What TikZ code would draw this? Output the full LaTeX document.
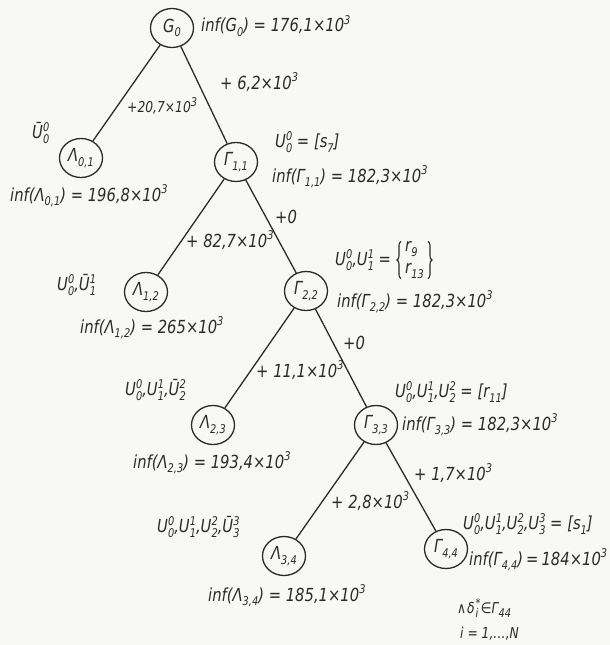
\documentclass[tikz,border=0pt]{standalone}
\usepackage{fontspec}
\setmainfont{DejaVu Sans}[FakeStretch=0.82]
\usetikzlibrary{shapes.geometric,decorations.pathreplacing}
\definecolor{ink}{HTML}{2B2B2B}
\definecolor{paper}{HTML}{F8F8F6}
\newcommand\mysup[1]{\raisebox{0.75ex}{\fontsize{12}{12}\selectfont #1}}
\newcommand\mysub[1]{\raisebox{-0.45ex}{\fontsize{12}{12}\selectfont #1}}
\newcommand\Usd[3]{#1\rlap{\mysup{#2}}\mysub{#3}}
\tikzset{
  every node/.style={font=\fontsize{18}{20}\selectfont\itshape, text=ink},
  st/.style={draw=ink, line width=1.3pt, ellipse, minimum width=43pt, minimum height=39pt, inner sep=0pt},
  edge/.style={draw=ink, line width=1.3pt},
  lab/.style={anchor=west, inner sep=0pt},
  small/.style={font=\fontsize{15}{17}\selectfont\itshape},
  brc/.style={draw=ink, line width=1.1pt, decorate, decoration={brace, amplitude=4pt}}
}
\begin{document}
\begin{tikzpicture}[x=1pt,y=-1pt]
\fill[paper] (0,0) rectangle (610,645);
\useasboundingbox (0,0) rectangle (610,645);
% tree nodes
\node[st] (G0)  at (172,28)  {G\mysub{0}};
\node[st] (L01) at (81,158)  {Λ\mysub{0,1}};
\node[st] (G11) at (236,162) {Γ\mysub{1,1}};
\node[st] (L12) at (146,292) {Λ\mysub{1,2}};
\node[st] (G22) at (306,291) {Γ\mysub{2,2}};
\node[st] (L23) at (213,425) {Λ\mysub{2,3}};
\node[st] (G33) at (376,425) {Γ\mysub{3,3}};
\node[st] (L34) at (284,556) {Λ\mysub{3,4}};
\node[st] (G44) at (446,549) {Γ\mysub{4,4}};
% connectors
\draw[edge] (G0) -- (L01);
\draw[edge] (G0) -- (G11);
\draw[edge] (G11) -- (L12);
\draw[edge] (G11) -- (G22);
\draw[edge] (G22) -- (L23);
\draw[edge] (G22) -- (G33);
\draw[edge] (G33) -- (L34);
\draw[edge] (G33) -- (G44);
% labels
\node[lab] (t1)  at (201,26)  {inf(G\mysub{0}) = 176,1×10\mysup{3}};
\node[lab] (t2)  at (220,82)  {+ 6,2×10\mysup{3}};
\node[lab,small] (t3)  at (127,106) {+20,7×10\mysup{3}};
\node[lab] (t4)  at (32,133)  {\Usd{Ū}{0}{0}};
\node[lab] (t5)  at (10,196)  {inf(Λ\mysub{0,1}) = 196,8×10\mysup{3}};
\node[lab] (t6)  at (275,142) {\Usd{U}{0}{0} = [s\mysub{7}]};
\node[lab] (t7)  at (272,177) {inf(Γ\mysub{1,1}) = 182,3×10\mysup{3}};
\node[lab] (t8)  at (275,217) {+0};
\node[lab] (t9)  at (186,240) {+ 82,7×10\mysup{3}};
\node[lab] (t10) at (57,285)  {\Usd{U}{0}{0},\Usd{Ū}{1}{1}};
\node[lab] (t11) at (80,328)  {inf(Λ\mysub{1,2}) = 265×10\mysup{3}};
\node[lab] (t12) at (335,260) {\Usd{U}{0}{0},\Usd{U}{1}{1} =};
\node[lab] (r9)  at (405,249) {r\mysub{9}};
\node[lab] (r13) at (405,271) {r\mysub{13}};
\draw[brc] ([xshift=-4pt]r13.west |- r13.south) -- ([xshift=-4pt]r13.west |- r9.north);
\draw[brc] ([xshift=4pt]r13.east |- r9.north) -- ([xshift=4pt]r13.east |- r13.south);
\node[lab] (t13) at (337,302) {inf(Γ\mysub{2,2}) = 182,3×10\mysup{3}};
\node[lab] (t14) at (343,343) {+0};
\node[lab] (t15) at (256,370) {+ 11,1×10\mysup{3}};
\node[lab] (t16) at (125,390) {\Usd{U}{0}{0},\Usd{U}{1}{1},\Usd{Ū}{2}{2}};
\node[lab] (t17) at (133,463) {inf(Λ\mysub{2,3}) = 193,4×10\mysup{3}};
\node[lab] (t18) at (395,392) {\Usd{U}{0}{0},\Usd{U}{1}{1},\Usd{U}{2}{2} = [r\mysub{11}]};
\node[lab] (t19) at (402,425) {inf(Γ\mysub{3,3}) = 182,3×10\mysup{3}};
\node[lab] (t20) at (414,473) {+ 1,7×10\mysup{3}};
\node[lab] (t21) at (331,501) {+ 2,8×10\mysup{3}};
\node[lab] (t22) at (157,527) {\Usd{U}{0}{0},\Usd{U}{1}{1},\Usd{U}{2}{2},\Usd{Ū}{3}{3}};
\node[lab] (t23) at (208,596) {inf(Λ\mysub{3,4}) = 185,1×10\mysup{3}};
\node[lab] (t24) at (463,524) {\Usd{U}{0}{0},\Usd{U}{1}{1},\Usd{U}{2}{2},\Usd{U}{3}{3} = [s\mysub{1}]};
\node[lab] (t25) at (469,560) {inf(Γ\mysub{4,4})\,=\,184×10\mysup{3}};
\node[lab,small] (t26) at (457,608) {∧\kern1pt\Usd{δ\kern1pt}{*}{i}\,∈Γ\mysub{44}};
\node[lab,small] (t27) at (460,634) {i = 1,…,N};
\end{tikzpicture}
\end{document}
